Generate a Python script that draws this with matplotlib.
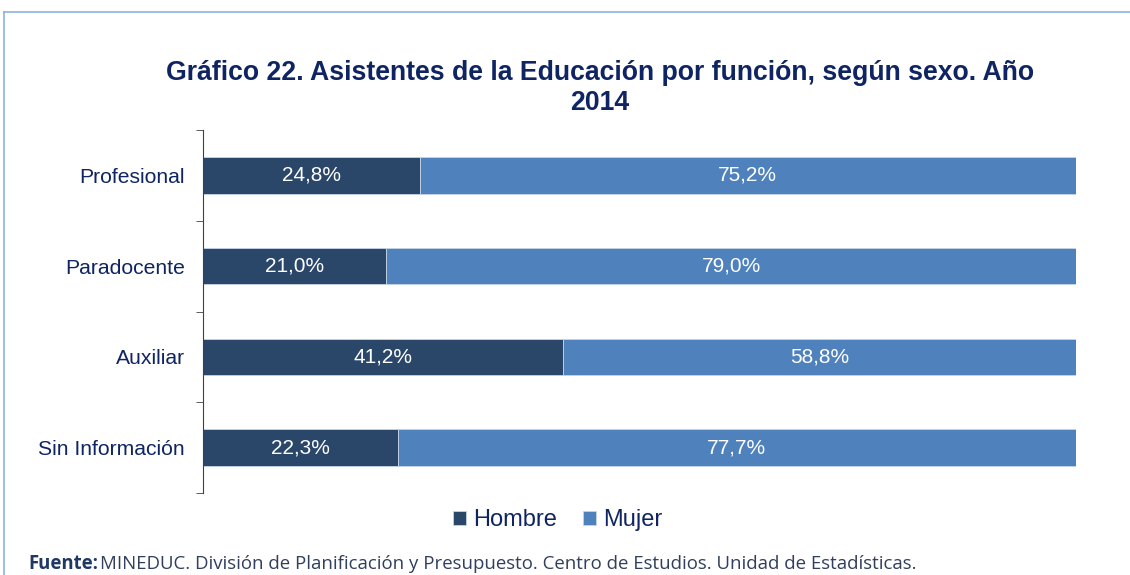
import matplotlib.pyplot as plt

# ------------------------
# DATOS
# ------------------------
funciones = ["Profesional", "Paradocente", "Auxiliar", "Sin Información"]
hombre = [24.8, 21.0, 41.2, 22.3]
mujer = [75.2, 79.0, 58.8, 77.7]

COLOR_H = "#2A4669"
COLOR_M = "#4F81BD"
NAVY = "#0F2463"

plt.rcParams['font.family'] = ['Liberation Sans', 'DejaVu Sans']

fig = plt.figure(figsize=(11.3, 5.75), dpi=100)

# marco del documento (línea celeste arriba y a la izquierda)
fig.add_artist(plt.Line2D([4 / 1130, 4 / 1130], [0, 1 - 12 / 575],
                          transform=fig.transFigure, color="#8DB3E2", lw=1.2))
fig.add_artist(plt.Line2D([4 / 1130, 1], [1 - 12 / 575, 1 - 12 / 575],
                          transform=fig.transFigure, color="#8DB3E2", lw=1.2))

ax = fig.add_axes([203 / 1130, 1 - 493 / 575, 873 / 1130, 363 / 575])

y = list(range(len(funciones)))
h_frac = [v / 100 for v in hombre]
m_frac = [v / 100 for v in mujer]

ax.barh(y, h_frac, height=0.4, color=COLOR_H, edgecolor="#C6D5E8", lw=0.6, label="Hombre")
ax.barh(y, m_frac, height=0.4, left=h_frac, color=COLOR_M, edgecolor="#C6D5E8", lw=0.6, label="Mujer")

for i in y:
    ax.text(h_frac[i] / 2, i, f"{hombre[i]:.1f}%".replace(".", ","),
            ha="center", va="center", color="white", fontsize=15)
    ax.text(h_frac[i] + m_frac[i] / 2, i, f"{mujer[i]:.1f}%".replace(".", ","),
            ha="center", va="center", color="white", fontsize=15)

ax.set_xlim(0, 1)
ax.set_ylim(len(funciones) - 0.5, -0.5)
ax.set_yticks(y)
ax.set_yticklabels(funciones, fontsize=15.2, color=NAVY)
ax.tick_params(axis="y", length=0, pad=13)
ax.set_yticks([i - 0.5 for i in range(len(funciones) + 1)], minor=True)
ax.tick_params(axis="y", which="minor", length=5, color="#404040")
ax.set_xticks([])
for s in ["top", "right", "bottom"]:
    ax.spines[s].set_visible(False)
ax.spines["left"].set_color("#404040")

fig.text(600 / 1130, 1 - 88 / 575,
         "Gráfico 22. Asistentes de la Educación por función, según sexo. Año\n2014",
         ha="center", va="center", fontsize=19.2, fontweight="bold", color=NAVY,
         linespacing=1.15)

fig.legend(loc="center", bbox_to_anchor=(558 / 1130, 1 - 520 / 575), ncol=2,
           frameon=False, fontsize=17, handlelength=0.55, handleheight=0.55,
           handletextpad=0.3, columnspacing=1.1, labelcolor=NAVY)

fig.text(28 / 1130, 1 - 569 / 575, "Fuente:", ha="left", va="baseline",
         fontsize=13.4, fontweight="bold", color="#1F3864", family=["Open Sans", "DejaVu Sans"])
fig.text(100 / 1130, 1 - 569 / 575,
         "MINEDUC. División de Planificación y Presupuesto. Centro de Estudios. Unidad de Estadísticas.",
         ha="left", va="baseline", fontsize=13.4, color="#2F3F5C",
         family=["Open Sans", "DejaVu Sans"])

fig.savefig("out.png", dpi=100)
